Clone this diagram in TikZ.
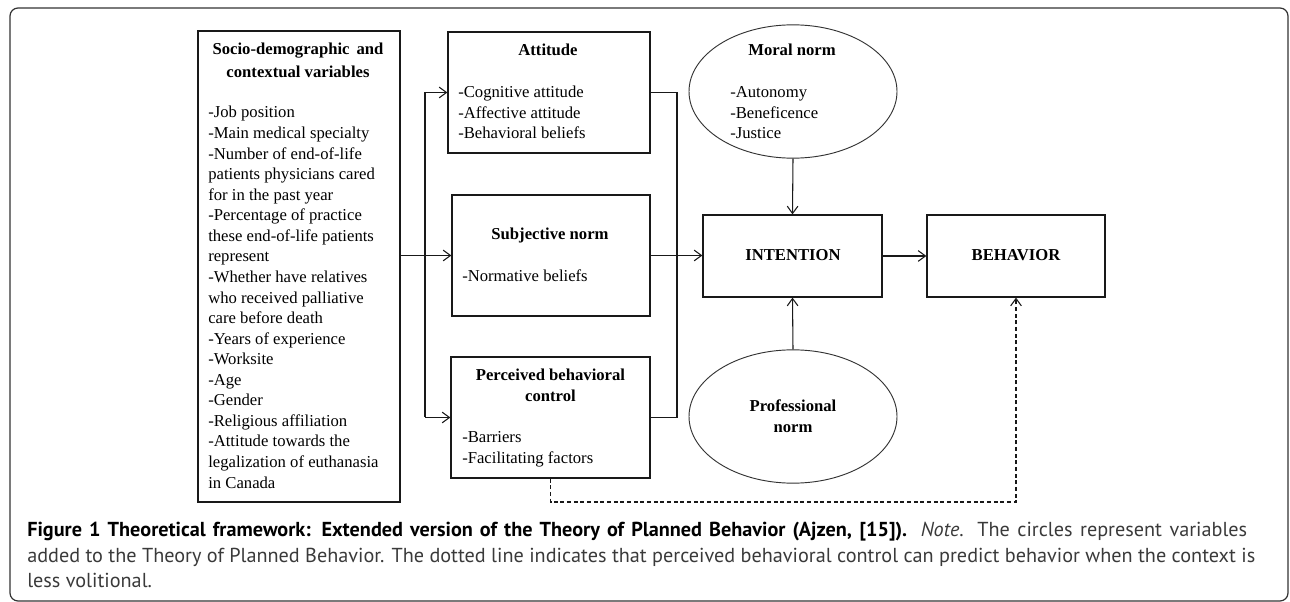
\documentclass[tikz,border=0pt]{standalone}
\usepackage{fontspec}
\setmainfont{Liberation Serif}
\newfontfamily\capfont{PT Sans}
\usetikzlibrary{arrows.meta,fit,shapes.geometric}
\definecolor{capgray}{HTML}{3A3A3A}
\definecolor{framegray}{HTML}{333333}
\newlength\capw
\begin{document}
\settowidth\capw{\capfont\fontsize{10pt}{12pt}\selectfont added to the Theory of Planned Behavior. The dotted line indicates that perceived behavioral control can predict behavior when the context is}%
\pgfmathsetmacro\capsz{10*921/\capw}%
\begin{tikzpicture}[x=0.75pt,y=-0.75pt,
  box/.style={draw=black!90, line width=0.9pt, inner sep=0pt},
  ell/.style={draw=black!80, line width=0.7pt, ellipse, inner sep=0pt, minimum width=156pt, minimum height=100pt},
  itm/.style={font=\fontsize{12.5}{14}\selectfont, inner sep=0pt, anchor=base west},
  ttl/.style={font=\fontsize{12.5}{14}\selectfont\bfseries, inner sep=0pt, anchor=base},
  conn/.style={line width=0.8pt, draw=black!90},
  arr/.style={conn, -{Straight Barb[length=5.5pt,width=8pt]}},
  dsh/.style={arr, dash pattern=on 3pt off 2pt}]
\useasboundingbox (0,0) rectangle (1290,602);
% outer frame
\draw[framegray, line width=0.9pt, rounded corners=6pt] (10,8) rectangle (1288,601);

% boxes
\node[box, fit={(198,31) (400,502)}] (socio) {};
\node[box, fit={(448,32) (650,153)}] (att) {};
\node[box, fit={(452,195) (650,316)}] (subj) {};
\node[box, fit={(451,357) (650,478)}] (pbc) {};
\node[box, fit={(703,215) (882,297)}] (int) {};
\node[box, fit={(927,215) (1105,297)}] (beh) {};
\node[ell] (moral) at (793,91.5) {};
\node[ell] (prof) at (793,416.5) {};

% socio text
\node[ttl] (st1) at (298,55) {Socio-demographic\, and};
\node[ttl] (st2) at (298,78) {contextual variables};
\foreach \t [count=\i from 0] in {-Job position,-Main medical specialty,-Number of end-of-life,patients physicians cared,for in the past year,-Percentage of practice,these end-of-life patients,represent,-Whether have relatives,who received palliative,care before death,-Years of experience,-Worksite,-Age,-Gender,-Religious affiliation,-Attitude towards the,legalization of euthanasia,in Canada}
  \node[itm] (si\i) at (208,{118+20.56*\i}) {\t};

% attitude
\node[ttl] (at) at (548,56) {Attitude};
\foreach \t [count=\i from 0] in {-Cognitive attitude,-Affective attitude,-Behavioral beliefs}
  \node[itm] (ai\i) at (458,{98+20.5*\i}) {\t};

% moral norm
\node[ttl] (mt) at (792,56) {Moral norm};
\foreach \t [count=\i from 0] in {-Autonomy,-Beneficence,-Justice}
  \node[itm] (mi\i) at (730,{98+20.5*\i}) {\t};

% subjective norm
\node[ttl] (sbt) at (550,240) {Subjective norm};
\node[itm] (sbi) at (462,282) {-Normative beliefs};

% pbc
\node[ttl] (pt1) at (550.5,381) {Perceived behavioral};
\node[ttl] (pt2) at (550.5,402) {control};
\node[itm] (pi0) at (462,443) {-Barriers};
\node[itm] (pi1) at (462,464) {-Facilitating factors};

% intention / behavior
\node[ttl] (it) at (793,261) {INTENTION};
\node[ttl] (bt) at (1016,261) {BEHAVIOR};

% professional norm
\node[ttl] (pn1) at (793,412) {Professional};
\node[ttl] (pn2) at (793,433) {norm};

% connectors
\coordinate (busLt) at (425,92.5);
\coordinate (busLb) at (425,417.5);
\coordinate (busRt) at (677,92.5);
\coordinate (busRb) at (677,417.5);
\draw[conn] (busLt) -- (busLb);
\draw[arr] (socio.east |- subj.west) -- (subj.west);
\draw[arr] (busLt) -- (att.west);
\draw[arr] (busLb) -- (pbc.west);
\draw[conn] (att.east) -- (busRt) -- (busRb) -- (pbc.east);
\draw[arr] (subj.east) -- (int.west |- subj.east);
\draw[arr] (moral.south) -- (int.north);
\draw[arr] (prof.north) -- (int.south);
\draw[arr] (int.east) -- (beh.west);
\coordinate (dA) at (550.5,502);
\coordinate (dB) at (1016,502);
\draw[dsh] (pbc.south) -- (dA) -- (dB) -- (beh.south);

% caption
\node[inner sep=0pt, anchor=base west, text=capgray, font=\capfont\fontsize{\capsz pt}{14pt}\selectfont] (cap1) at (27,537)
  {\makebox[915pt][s]{\textcolor{black}{\bfseries Figure 1 Theoretical framework: Extended version of the Theory of Planned Behavior (Ajzen, [15]).} \textit{Note}. The circles represent variables}};
\node[inner sep=0pt, anchor=base west, text=capgray, font=\capfont\fontsize{\capsz pt}{14pt}\selectfont] (cap2) at (27,562)
  {\makebox[921pt][s]{added to the Theory of Planned Behavior. The dotted line indicates that perceived behavioral control can predict behavior when the context is}};
\node[inner sep=0pt, anchor=base west, text=capgray, font=\capfont\fontsize{\capsz pt}{14pt}\selectfont] (cap3) at (27,587)
  {less volitional.};
\end{tikzpicture}
\end{document}
